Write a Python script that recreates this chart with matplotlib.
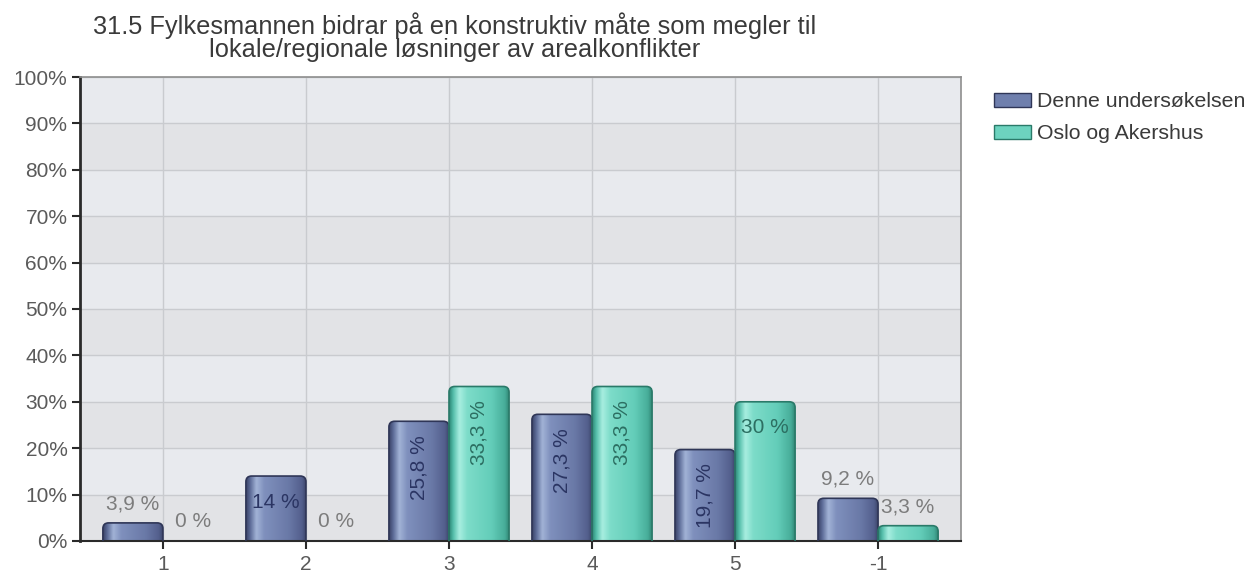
import numpy as np
import matplotlib.pyplot as plt
from matplotlib.colors import LinearSegmentedColormap
from matplotlib.patches import FancyBboxPatch, Patch

plt.rcParams["font.family"] = ["Liberation Sans", "DejaVu Sans"]

title = ("31.5 Fylkesmannen bidrar på en konstruktiv måte som megler til\n"
         "lokale/regionale løsninger av arealkonflikter")
categories = ["1", "2", "3", "4", "5", "-1"]
series_names = ["Denne undersøkelsen", "Oslo og Akershus"]
denne = [3.9, 14.0, 25.8, 27.3, 19.7, 9.2]
oslo = [0.0, 0.0, 33.3, 33.3, 30.0, 3.3]
denne_labels = ["3,9 %", "14 %", "25,8 %", "27,3 %", "19,7 %", "9,2 %"]
oslo_labels = ["0 %", "0 %", "33,3 %", "33,3 %", "30 %", "3,3 %"]

# cylinder-style shading across each bar, left to right
blue_cmap = LinearSegmentedColormap.from_list("blue_bar", [
    (0.00, "#3a4266"), (0.07, "#5d6c98"), (0.17, "#a2b3d6"),
    (0.30, "#7f90bd"), (0.70, "#6a79a7"), (0.92, "#535f8c"), (1.00, "#373f62")])
teal_cmap = LinearSegmentedColormap.from_list("teal_bar", [
    (0.00, "#2b8473"), (0.07, "#55bfab"), (0.17, "#a8eee0"),
    (0.30, "#7ddcc9"), (0.70, "#63cdb9"), (0.92, "#47ad99"), (1.00, "#2c7e6d")])
blue_edge, teal_edge = "#2f3657", "#2a7a69"
blue_text, teal_text = "#2b3563", "#2c6f62"

fig = plt.figure(figsize=(12.54, 5.75), dpi=100)
ax = fig.add_axes([80 / 1254, 34 / 575, 881 / 1254, 464 / 575])

x = np.arange(len(categories))
w = 0.42

ax.set_facecolor("#e2e3e6")
for lo in range(10, 100, 20):
    ax.axhspan(lo, lo + 10, color="#e8eaee", lw=0, zorder=0)
ax.grid(True, color="#c9cbcf", lw=1, zorder=0.5)
ax.set_axisbelow(True)

bars_a = ax.bar(x - w / 2, denne, w, color="none", zorder=1)
bars_b = ax.bar(x + w / 2, oslo, w, color="none", zorder=1)

grad = np.linspace(0, 1, 256)[None, :]
for bars, cmap, edge in [(bars_a, blue_cmap, blue_edge), (bars_b, teal_cmap, teal_edge)]:
    for rect in bars:
        h = rect.get_height()
        if h <= 0:
            continue
        x0, bw = rect.get_x(), rect.get_width()
        # rounded top; the lower rounding sits below zero and is clipped
        shape = FancyBboxPatch((x0, -3), bw, h + 3,
                               boxstyle="round,pad=0,rounding_size=0.04",
                               mutation_aspect=30.8, fc="none", ec=edge,
                               lw=1.2, zorder=3)
        ax.add_patch(shape)
        im = ax.imshow(grad, cmap=cmap, extent=[x0, x0 + bw, -3, h],
                       aspect="auto", interpolation="bicubic", zorder=2)
        im.set_clip_path(shape)

ax.set_xlim(-0.58, 5.58)
ax.set_ylim(0, 100)

fig.canvas.draw()
renderer = fig.canvas.get_renderer()
px_per_x = ax.transData.transform((1, 0))[0] - ax.transData.transform((0, 0))[0]

for bars, labels, inner in [(bars_a, denne_labels, blue_text), (bars_b, oslo_labels, teal_text)]:
    for rect, lab in zip(bars, labels):
        h = rect.get_height()
        cx = rect.get_x() + rect.get_width() / 2
        if h < 11:
            ax.text(cx, h + 4.1, lab, ha="center", va="center",
                    fontsize=15, color="#7c7c7c", zorder=4)
            continue
        t = ax.text(cx, h - 5.6, lab, ha="center", va="center",
                    fontsize=15, color=inner, zorder=4)
        tw = t.get_window_extent(renderer).width
        # too wide to sit across the bar: turn it upright
        if tw > rect.get_width() * px_per_x - 2:
            t.set_rotation(90)
            t.set_y(h - 3)
            t.set_va("top")

ax.set_yticks(range(0, 101, 10))
ax.set_yticklabels([f"{v}%" for v in range(0, 101, 10)])
ax.set_xticks(x)
ax.set_xticklabels(categories)
ax.tick_params(axis="both", labelsize=15, labelcolor="#5a5a5a",
               color="#2a2a2a", length=6, width=1.5)
ax.tick_params(axis="y", pad=3)
ax.tick_params(axis="x", pad=4)

for side in ["top", "right"]:
    ax.spines[side].set_color("#8e8e8e")
    ax.spines[side].set_linewidth(1.2)
ax.spines["left"].set_color("#2a2a2a")
ax.spines["left"].set_linewidth(2)
ax.spines["bottom"].set_color("#2a2a2a")
ax.spines["bottom"].set_linewidth(1.5)

fig.text(455 / 1254, 1 - 37 / 575, title, ha="center", va="center",
         fontsize=18.3, color="#3a3a3a", linespacing=0.98)

handles = [Patch(facecolor="#6f7fad", edgecolor=blue_edge, label=series_names[0]),
           Patch(facecolor="#6dd3bf", edgecolor=teal_edge, label=series_names[1])]
fig.legend(handles=handles, loc="upper left", bbox_to_anchor=(990 / 1254, 1 - 88 / 575),
           frameon=False, fontsize=15.3, handlelength=1.75, handleheight=0.62,
           handletextpad=0.25, labelspacing=0.62, borderpad=0.2,
           borderaxespad=0, labelcolor="#3a3a3a")

fig.savefig("out.png", dpi=100)
